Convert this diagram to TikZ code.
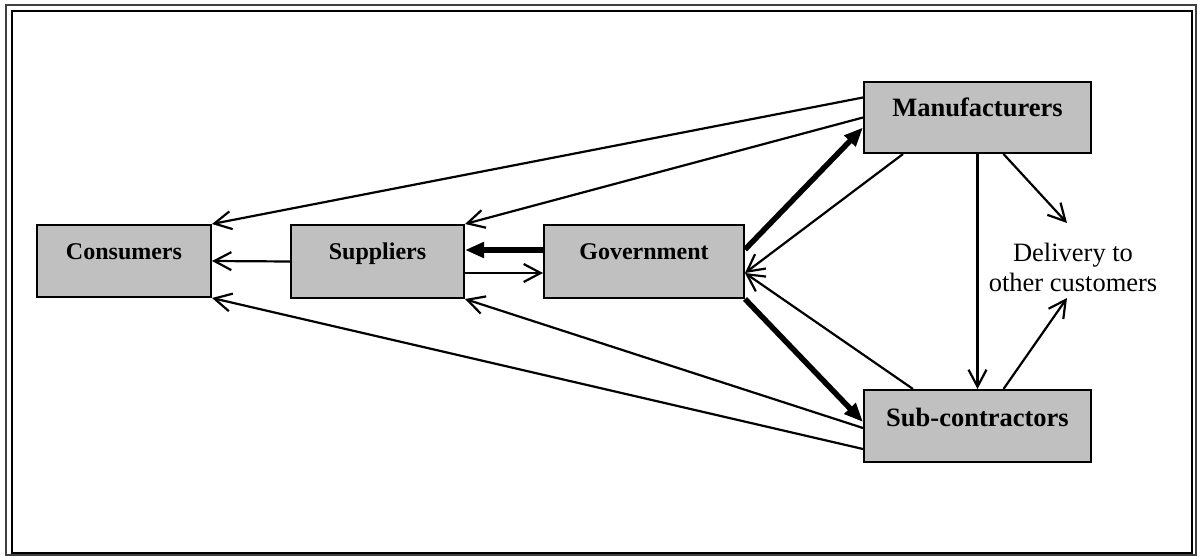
\documentclass[tikz,border=0pt]{standalone}
\usepackage{fontspec}
\setmainfont{Liberation Serif}
\usetikzlibrary{arrows.meta}
\definecolor{boxgray}{HTML}{C0C0C0}
\begin{document}
\begin{tikzpicture}[x=1pt,y=-1pt,
  unitbox/.style={draw, line width=2pt, fill=boxgray, inner sep=0pt,
    anchor=north west, font=\bfseries\fontsize{24}{28}\selectfont},
  bigbox/.style={unitbox, font=\bfseries\fontsize{26.5}{30}\selectfont},
  flow/.style={line width=2.2pt, -{Straight Barb[length=17pt,width=18pt]}},
  heavy/.style={line width=5.5pt, -{Triangle[length=19pt,width=15pt]}}]
\useasboundingbox (0,0) rectangle (1198,556);
% double page frame
\draw[line width=1.2pt, black!75] (6,5) rectangle (1196,555);
\draw[line width=2.8pt] (12,11) rectangle (1192,553);

% boxes
\node[unitbox, minimum width=174pt, text height=34pt, text depth=38pt] (cons) at (36,224) {Consumers};
\node[unitbox, minimum width=173pt, text height=34pt, text depth=39pt] (supp) at (290,224) {Suppliers};
\node[unitbox, minimum width=200pt, text height=34pt, text depth=39pt] (gov) at (543,224) {Government};
\node[bigbox, minimum width=227pt, text height=35pt, text depth=36pt] (manu) at (863,81) {Manufacturers};
\node[bigbox, minimum width=227pt, text height=36pt, text depth=36pt] (sub) at (863,389) {Sub-contractors};
\node[align=center, inner sep=0pt, font=\fontsize{26.5}{30}\selectfont] (deliv) at (1073,267) {Delivery to\\other customers};
\coordinate (d1) at (1067,223);
\coordinate (d2) at (1067,298);

% connectors
\draw[flow] ([yshift=20pt]manu.west) -- (cons.north east);
\draw[flow] (manu.west) -- (supp.north east);
\draw[heavy] ([yshift=12pt]gov.east) -- ([yshift=-10pt]manu.west);
\draw[flow] ([xshift=40pt]manu.south west) -- ([yshift=-11.5pt]gov.east);
\draw[flow] ([xshift=50pt]sub.north west) -- ([yshift=-11.5pt]gov.east);
\draw[heavy] (gov.south east) -- ([yshift=4pt]sub.west);
\draw[flow] ([yshift=-2pt]sub.west) -- (supp.south east);
\draw[flow] ([yshift=-23pt]sub.west) -- (cons.south east);
\draw[flow] (supp.west) -- (cons.east);
\draw[heavy] ([yshift=11.5pt]gov.west) -- ([yshift=11.5pt]supp.east);
\draw[flow] ([yshift=-11.5pt]supp.east) -- ([yshift=-11.5pt]gov.west);
\draw[flow] (manu.south) -- (sub.north);
\draw[flow] ([xshift=26pt]manu.south) -- (d1);
\draw[flow] ([xshift=26pt]sub.north) -- (d2);
\end{tikzpicture}
\end{document}
